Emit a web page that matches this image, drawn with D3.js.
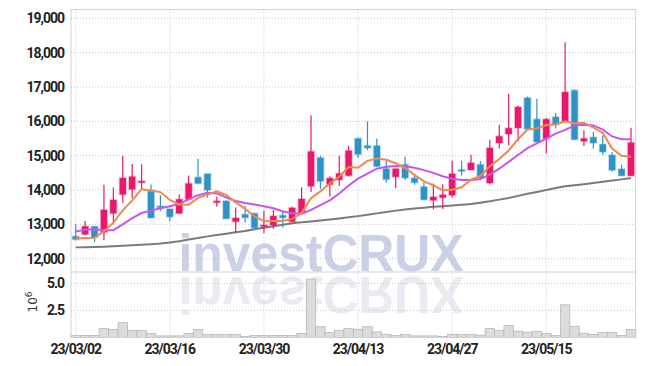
<!DOCTYPE html>
<html>
<head>
<meta charset="utf-8">
<script src="https://cdn.jsdelivr.net/npm/d3@7"></script>
<style>
  body { margin: 0; background: #fff; }
  .tick text { font-family: Roboto, "Liberation Sans", sans-serif; font-weight: bold; font-size: 14px; letter-spacing: -1px; fill: #222; }
</style>
</head>
<body>
<div id="chart"></div>
<script>
// trading days (yy/mm/dd)
var dates = ["23/03/02","23/03/03","23/03/06","23/03/07","23/03/08","23/03/09","23/03/10","23/03/13","23/03/14","23/03/15",
  "23/03/16","23/03/17","23/03/20","23/03/21","23/03/22","23/03/23","23/03/24","23/03/27","23/03/28","23/03/29",
  "23/03/30","23/03/31","23/04/03","23/04/04","23/04/05","23/04/06","23/04/07","23/04/10","23/04/11","23/04/12",
  "23/04/13","23/04/14","23/04/17","23/04/18","23/04/19","23/04/20","23/04/21","23/04/24","23/04/25","23/04/26",
  "23/04/27","23/04/28","23/05/02","23/05/03","23/05/04","23/05/08","23/05/09","23/05/10","23/05/11","23/05/12",
  "23/05/15","23/05/16","23/05/17","23/05/18","23/05/19","23/05/22","23/05/23","23/05/24","23/05/25","23/05/26"];

var opens = [12650,12710,12940,12770,13320,13870,14020,14215,14000,13530,
  13450,13320,13730,14370,14470,13640,13680,13080,13290,13320,
  12935,12980,13260,13080,13320,14110,14940,14160,14295,14420,
  15500,15290,15290,14620,14385,14740,14345,14095,13700,13780,
  13850,14590,14585,14740,14205,15370,15630,15810,16680,16060,
  15500,16125,16000,16900,15420,15535,15330,15015,14610,14415];
var highs = [13000,13100,12950,14150,14070,15000,14760,14750,14160,13850,
  13450,13880,14420,14910,14470,13810,13700,13490,13540,13330,
  13400,13420,13390,13510,14080,16180,14990,14390,15000,15280,
  15520,16000,15500,14850,14630,14970,14440,14220,14190,14170,
  14850,14850,15030,14840,15460,15900,16800,16460,16720,16660,
  16100,16240,18300,16930,15740,15690,15590,15110,14740,15810];
var lows = [12550,12680,12480,12540,13000,13630,13760,14000,13180,13380,
  13080,13310,13720,14180,13780,13510,13160,12760,13050,12850,
  12740,12870,12900,13070,13310,13940,14030,13810,14120,14390,
  14930,15160,14680,14220,14050,14290,14150,13700,13440,13450,
  13780,14420,14580,14320,14170,15210,15300,15420,15770,15390,
  15060,15800,15990,15460,15285,15210,15030,14530,14410,14410];
var closes = [12560,12940,12620,13420,13710,14350,14390,14260,13190,13500,
  13220,13730,14190,14190,14000,13680,13165,13185,13195,12900,
  12980,13240,13195,13480,13740,15120,14255,14345,14480,15145,
  15040,15225,14690,14310,14620,14355,14220,13720,13800,13860,
  14470,14570,14790,14370,15225,15565,15800,16415,15780,15400,
  16060,15905,16850,15470,15500,15370,15110,14580,14415,15380];

// volume, millions of shares
var volumes = [0.18,0.18,0.18,0.82,0.73,1.37,0.64,0.64,0.37,0.15,
  0.15,0.15,0.37,0.73,0.27,0.27,0.27,0.27,0.09,0.18,
  0.18,0.18,0.18,0.18,0.37,5.4,1.0,0.46,0.67,0.82,
  0.76,1.0,0.52,0.30,0.18,0.27,0.15,0.15,0.15,0.09,
  0.27,0.27,0.27,0.21,0.82,0.67,1.1,0.58,0.49,0.58,
  0.37,0.18,3.02,1.04,0.40,0.27,0.46,0.46,0.18,0.73];

// moving averages
var ma5 = [12590,12600,12610,12800,13050,13410,13700,14030,13980,13940,
  13710,13580,13570,13770,13870,13960,13850,13640,13450,13230,
  13090,13100,13100,13160,13330,13760,13960,14190,14390,14670,
  14650,14850,14920,14880,14780,14640,14440,14250,14140,13990,
  14010,14080,14300,14410,14690,14900,15150,15480,15760,15790,
  15890,15910,16000,15940,15960,15820,15660,15210,15000,14970];
var ma20 = [12790,12840,12860,12830,12830,13000,13180,13330,13400,13470,
  13530,13590,13730,13850,13920,13900,13780,13680,13620,13580,
  13530,13470,13380,13320,13310,13420,13560,13700,13900,14130,
  14330,14480,14620,14680,14700,14690,14650,14580,14500,14400,
  14330,14290,14290,14320,14450,14620,14820,15020,15220,15360,
  15500,15640,15750,15880,15900,15880,15760,15560,15480,15480];
var ma60 = [12330,12335,12340,12350,12365,12380,12395,12405,12420,12440,
  12470,12510,12560,12600,12650,12690,12730,12770,12810,12855,
  12900,12945,12990,13030,13060,13085,13110,13140,13170,13205,
  13240,13280,13320,13360,13400,13430,13460,13485,13510,13530,
  13550,13570,13590,13630,13670,13720,13770,13830,13890,13945,
  14000,14060,14110,14140,14170,14205,14240,14275,14310,14350];

var priceTicks = [12000,13000,14000,15000,16000,17000,18000,19000];
var volTicks = [2.5,5.0];
var dateTicks = ["23/03/02","23/03/16","23/03/30","23/04/13","23/04/27","23/05/15"];

var upColor = "#e8186a", downColor = "#2f93c6";

var margin = {top: 9.5, right: 9.3, bottom: 28.5, left: 71},
    width = 645 - margin.left - margin.right,
    height = 366 - margin.top - margin.bottom,
    priceH = 262.5;

var svG = d3.select("#chart")
  .append("svg")
    .attr("width", 645)
    .attr("height", 366)
  .append("g")
    .attr("transform", "translate(" + margin.left + "," + margin.top + ")");

var rows = dates.map(function(d, i) {
  return {date: d, o: opens[i], h: highs[i], l: lows[i], c: closes[i], v: volumes[i],
          m5: ma5[i], m20: ma20[i], m60: ma60[i]};
});

var x = d3.scaleBand().domain(dates).range([0, width]);
var xc = function(d) { return x(d) + x.bandwidth() / 2; };
var y = d3.scaleLinear().domain([11613, 19256]).range([priceH, 0]);
var yv = d3.scaleLinear().domain([0, 6.06]).range([height, priceH]);

// watermark + its reflection
var wmY = 261;
svG.append("text")
  .attr("x", 250).attr("y", wmY)
  .attr("text-anchor", "middle")
  .attr("textLength", 285).attr("lengthAdjust", "spacingAndGlyphs")
  .style("font-family", "Liberation Sans, Arial, sans-serif")
  .style("font-weight", "bold").style("font-size", "52px")
  .style("fill", "#cad0e5")
  .text("investCRUX");
svG.append("text")
  .attr("transform", "translate(0," + (2 * wmY + 6) + ") scale(1,-1)")
  .attr("x", 250).attr("y", wmY)
  .attr("text-anchor", "middle")
  .attr("textLength", 285).attr("lengthAdjust", "spacingAndGlyphs")
  .style("font-family", "Liberation Sans, Arial, sans-serif")
  .style("font-weight", "bold").style("font-size", "52px")
  .style("fill", "#ebeaf0")
  .text("investCRUX");

// gridlines
var gridColor = "#c3c6da";
svG.append("g").selectAll("line").data(priceTicks).enter().append("line")
  .attr("x1", 0).attr("x2", width)
  .attr("y1", function(d){ return y(d); }).attr("y2", function(d){ return y(d); })
  .attr("stroke", gridColor).attr("stroke-dasharray", "1,2");
svG.append("g").selectAll("line").data(volTicks).enter().append("line")
  .attr("x1", 0).attr("x2", width)
  .attr("y1", function(d){ return yv(d); }).attr("y2", function(d){ return yv(d); })
  .attr("stroke", gridColor).attr("stroke-dasharray", "1,2");
svG.append("g").selectAll("line").data(dateTicks).enter().append("line")
  .attr("x1", xc).attr("x2", xc)
  .attr("y1", 0).attr("y2", height)
  .attr("stroke", gridColor).attr("stroke-dasharray", "1,2");

// volume bars
svG.append("g").selectAll("rect").data(rows).enter().append("rect")
  .attr("x", function(d){ return x(d.date); })
  .attr("width", x.bandwidth())
  .attr("y", function(d){ return yv(d.v); })
  .attr("height", function(d){ return yv(0) - yv(d.v); })
  .attr("fill", "#dcdcdc")
  .attr("stroke", "#b8b8b8").attr("stroke-width", 0.8);

// moving average lines
function maLine(key) {
  return d3.line().x(function(d){ return xc(d.date); }).y(function(d){ return y(d[key]); });
}
svG.append("path").datum(rows).attr("d", maLine("m60"))
  .attr("fill", "none").attr("stroke", "#7a7a7a").attr("stroke-width", 2);

// candles
var candle = svG.append("g").selectAll("g").data(rows).enter().append("g");
candle.append("line")
  .attr("x1", function(d){ return xc(d.date); }).attr("x2", function(d){ return xc(d.date); })
  .attr("y1", function(d){ return y(d.h); }).attr("y2", function(d){ return y(d.l); })
  .attr("stroke", function(d){ return d.c >= d.o ? upColor : downColor; })
  .attr("stroke-width", 1.2);
candle.append("rect")
  .attr("x", function(d){ return xc(d.date) - 3.2; })
  .attr("width", 6.4)
  .attr("y", function(d){ return y(Math.max(d.o, d.c)); })
  .attr("height", function(d){ return Math.max(1.5, Math.abs(y(d.o) - y(d.c))); })
  .attr("fill", function(d){ return d.c >= d.o ? upColor : downColor; })
  .attr("stroke", function(d){ return d.c >= d.o ? upColor : downColor; })
  .attr("stroke-opacity", 0.25).attr("stroke-width", 2);

svG.append("path").datum(rows).attr("d", maLine("m20"))
  .attr("fill", "none").attr("stroke", "#c856ec").attr("stroke-width", 2);
svG.append("path").datum(rows).attr("d", maLine("m5"))
  .attr("fill", "none").attr("stroke", "#f0874c").attr("stroke-width", 2);

// frame
svG.append("rect").attr("x", 0).attr("y", 0).attr("width", width).attr("height", height)
  .attr("fill", "none").attr("stroke", "#d0d0d0");
svG.append("line").attr("x1", 0).attr("x2", width).attr("y1", priceH).attr("y2", priceH)
  .attr("stroke", "#d0d0d0");

// axes
var yAxis = svG.append("g").attr("transform", "translate(-4,0)")
  .call(d3.axisLeft(y).tickValues(priceTicks).tickSize(0).tickFormat(d3.format(",")));
yAxis.select(".domain").remove();
var vAxis = svG.append("g").attr("transform", "translate(-4,0)")
  .call(d3.axisLeft(yv).tickValues(volTicks).tickSize(0).tickFormat(d3.format(".1f")));
vAxis.select(".domain").remove();
var xAxis = svG.append("g").attr("transform", "translate(0," + height + ")")
  .call(d3.axisBottom(x).tickValues(dateTicks).tickSize(0).tickPadding(7));
xAxis.select(".domain").remove();

svG.append("text")
  .attr("transform", "translate(-34," + (priceH + 30) + ") rotate(-90)")
  .attr("text-anchor", "middle")
  .style("font-family", "DejaVu Sans, sans-serif").style("font-size", "12px").style("fill", "#333")
  .text("10")
  .append("tspan").attr("dy", -5).style("font-size", "9px").text("6");
</script>
</body>
</html>
